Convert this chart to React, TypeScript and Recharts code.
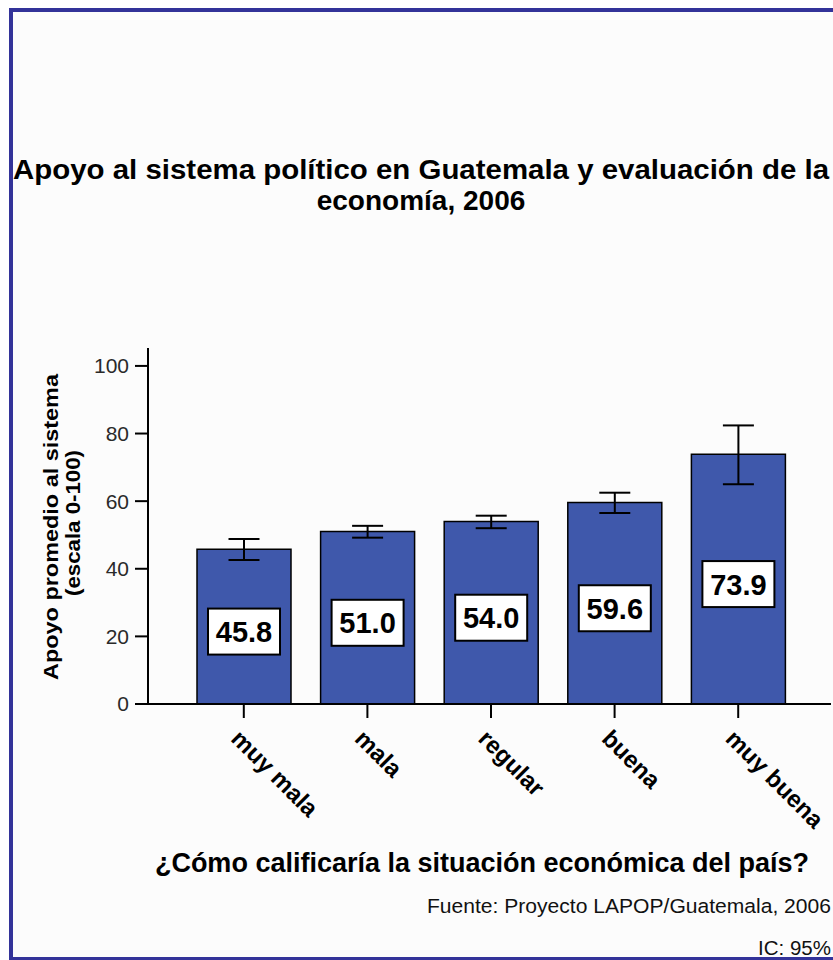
import React from 'react'
import { ComposedChart, Bar, ErrorBar, LabelList, XAxis, YAxis } from 'recharts'

const categories = ['muy mala', 'mala', 'regular', 'buena', 'muy buena']
const means = [45.8, 51.0, 54.0, 59.6, 73.9]
const ciLow = [42.6, 49.2, 52.0, 56.5, 65.0]
const ciHigh = [48.8, 52.7, 55.7, 62.5, 82.4]
const yTicks = [0, 20, 40, 60, 80, 100]

const titleLines = ['Apoyo al sistema político en Guatemala y evaluación de la', 'economía, 2006']
const yLabelLines = ['Apoyo promedio al sistema', '(escala 0-100)']
const xTitle = '¿Cómo calificaría la situación económica del país?'
const footLines = ['Fuente: Proyecto LAPOP/Guatemala, 2006', 'IC: 95%']

const data = categories.map((name, i) => ({
  name,
  value: means[i],
  err: [+(means[i] - ciLow[i]).toFixed(1), +(ciHigh[i] - means[i]).toFixed(1)],
}))

const FONT = "'Liberation Sans', Arial, sans-serif"
const W = 833
const H = 960

const XTick = (props: any) => {
  const { x, y, payload } = props
  const tx = x - 14
  const ty = y + 18
  return (
    <text x={tx} y={ty} transform={`rotate(45, ${tx}, ${ty})`} textAnchor="start"
      fontFamily={FONT} fontWeight="bold" fontSize={24} fill="#000">
      {payload.value}
    </text>
  )
}

const ValueBox = (props: any) => {
  const { x, y, width, height, value } = props
  const cx = x + width / 2
  const cy = y + height / 2 + 5
  return (
    <g>
      <rect x={cx - 36} y={cy - 23} width={72} height={46} fill="#fff" stroke="#000" strokeWidth={2} />
      <text x={cx} y={cy} dy="0.36em" textAnchor="middle" fontFamily={FONT} fontWeight="bold" fontSize={29} fill="#000">
        {Number(value).toFixed(1)}
      </text>
    </g>
  )
}

export default function App() {
  return (
    <div style={{ position: 'absolute', left: 0, top: 0, width: W, height: H, overflow: 'hidden', background: '#fff' }}>
      <div style={{
        position: 'absolute', left: 9, top: 8, width: 840, height: 953, boxSizing: 'border-box',
        border: '4px solid #333399', background: '#fcfcfc',
      }} />
      <div style={{ position: 'absolute', left: 0, top: 0 }}>
        <ComposedChart width={W} height={H} data={data} margin={{ top: 348, right: 2, bottom: 196, left: 48 }}>
          <XAxis dataKey="name" height={60} padding={{ left: 34, right: 31 }}
            axisLine={{ stroke: '#000', strokeWidth: 2 }} tickLine={{ stroke: '#000', strokeWidth: 2 }}
            tickSize={14} tickMargin={4} tick={<XTick />} interval={0} />
          <XAxis xAxisId="top" dataKey="name" orientation="top" height={0} tick={false} tickLine={false}
            axisLine={{ stroke: '#8c8c8c', strokeWidth: 1.5 }} />
          <YAxis width={100} domain={[0, 105.3]} ticks={yTicks} allowDataOverflow
            axisLine={{ stroke: '#000', strokeWidth: 2 }} tickLine={{ stroke: '#000', strokeWidth: 2 }}
            tickSize={13} tickMargin={6}
            tick={{ fontSize: 21, fill: '#2a2a2a', fontFamily: FONT }} />
          <YAxis yAxisId="right" orientation="right" width={0} domain={[0, 105.3]} tick={false} tickLine={false}
            axisLine={{ stroke: '#8c8c8c', strokeWidth: 1.5 }} />
          <Bar dataKey="value" barSize={94} fill="#3f58ab" stroke="#000" strokeWidth={1.5} isAnimationActive={false}>
            <ErrorBar dataKey="err" width={15.5} stroke="#000" strokeWidth={2} isAnimationActive={false} />
            <LabelList dataKey="value" content={<ValueBox />} />
          </Bar>
        </ComposedChart>
      </div>
      <svg width={W} height={H} style={{ position: 'absolute', left: 0, top: 0, pointerEvents: 'none' }}
        fontFamily={FONT}>
        <text x={421} y={179} textAnchor="middle" fontWeight="bold" fontSize={28}
          textLength={816} lengthAdjust="spacingAndGlyphs">{titleLines[0]}</text>
        <text x={421} y={210} textAnchor="middle" fontWeight="bold" fontSize={28}>{titleLines[1]}</text>
        <text x={58} y={527} transform="rotate(-90, 58, 527)" textAnchor="middle" fontWeight="bold" fontSize={19.5}
          textLength={306} lengthAdjust="spacingAndGlyphs">{yLabelLines[0]}</text>
        <text x={80} y={523} transform="rotate(-90, 80, 523)" textAnchor="middle" fontWeight="bold" fontSize={19.5}
          textLength={146} lengthAdjust="spacingAndGlyphs">{yLabelLines[1]}</text>
        <text x={482} y={872} textAnchor="middle" fontWeight="bold" fontSize={27}>{xTitle}</text>
        <text x={831} y={913} textAnchor="end" fontSize={20.5} fill="#111"
          textLength={404} lengthAdjust="spacingAndGlyphs">{footLines[0]}</text>
        <text x={831} y={955} textAnchor="end" fontSize={20.5} fill="#111">{footLines[1]}</text>
      </svg>
    </div>
  )
}
